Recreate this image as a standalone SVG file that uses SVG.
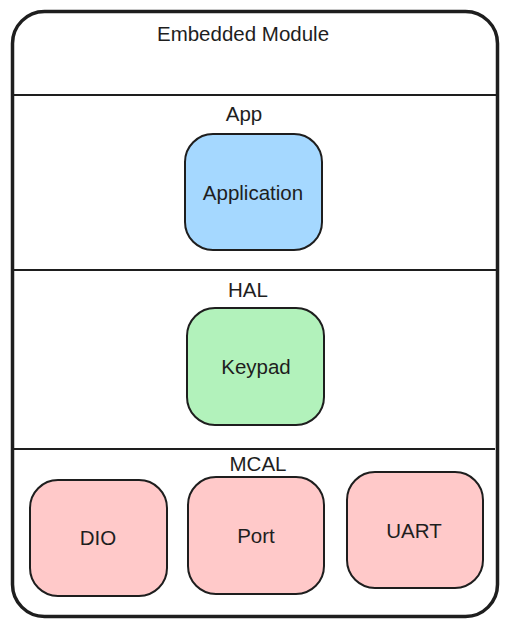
<svg xmlns="http://www.w3.org/2000/svg" width="508" height="627" viewBox="0 0 508 627">
<style>
text{font-family:"Liberation Sans","DejaVu Sans",sans-serif;font-size:20.5px;fill:#1e1e1e;text-anchor:middle;dominant-baseline:central}
.box{stroke:#1e1e1e;stroke-width:2;stroke-linejoin:round}
.sep{stroke:#1e1e1e;stroke-width:2}
</style>
<rect x="0" y="0" width="508" height="627" fill="#ffffff"/>
<g id="frame">
<rect x="12.5" y="11.5" width="485" height="605" rx="32" fill="none" stroke="#1e1e1e" stroke-width="3.5"/>
<text x="243" y="33">Embedded Module</text>
</g>
<g id="connectors">
<line class="sep" x1="12" y1="95" x2="497" y2="95"/>
<line class="sep" x1="12" y1="270" x2="497" y2="270"/>
<line class="sep" x1="12" y1="449" x2="495" y2="449"/>
</g>
<g id="layer-app"><text x="244" y="113">App</text></g>
<g id="layer-hal"><text x="248" y="289">HAL</text></g>
<g id="layer-mcal"><text x="258" y="463">MCAL</text></g>
<g id="application">
<rect class="box" x="185" y="134" width="137" height="116" rx="28" fill="#a5d8ff"/>
<text x="253" y="192">Application</text>
</g>
<g id="keypad">
<rect class="box" x="187" y="308" width="137" height="117" rx="28" fill="#b2f2bb"/>
<text x="256" y="366">Keypad</text>
</g>
<g id="dio">
<rect class="box" x="30" y="480" width="137" height="116" rx="28" fill="#ffc9c9"/>
<text x="98" y="537">DIO</text>
</g>
<g id="port">
<rect class="box" x="188" y="477" width="136" height="117" rx="28" fill="#ffc9c9"/>
<text x="256" y="535">Port</text>
</g>
<g id="uart">
<rect class="box" x="347" y="472" width="136" height="116" rx="28" fill="#ffc9c9"/>
<text x="414" y="530">UART</text>
</g>
</svg>
